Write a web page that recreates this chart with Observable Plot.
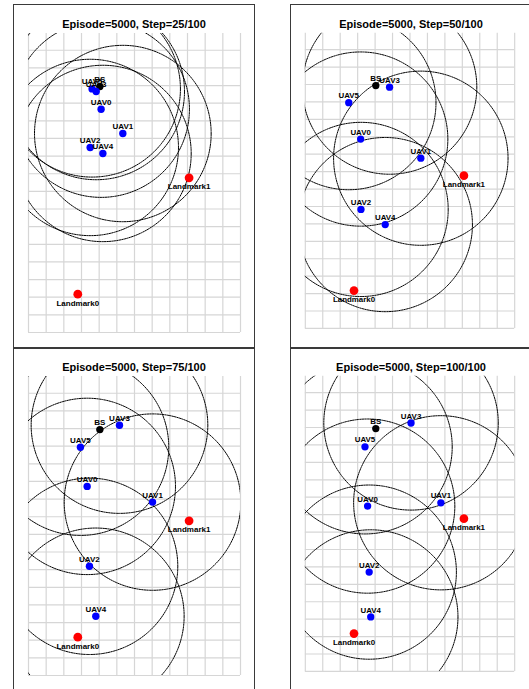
<!DOCTYPE html>
<html><head><meta charset="utf-8">
<script src="https://cdn.jsdelivr.net/npm/d3@7"></script>
<script src="https://cdn.jsdelivr.net/npm/@observablehq/plot@0.6"></script>
<style>
body{margin:0;background:#fff;overflow:hidden;}
#root{position:relative;width:529px;height:689px;overflow:hidden;}
.panel{position:absolute;}
.frame{position:absolute;border:1.5px solid #3a3a3a;box-sizing:border-box;pointer-events:none;}
.title{position:absolute;font:bold 11px "Liberation Sans",Arial,sans-serif;text-align:center;line-height:14px;color:#000;}
</style></head><body><div id="root"></div>
<script>
const episode = 5000;
const steps = ["25/100", "50/100", "75/100", "100/100"];
const uavNames = ["UAV0", "UAV1", "UAV2", "UAV3", "UAV4", "UAV5"];
// UAV positions (grid units) per step
const uavX25 = [4.11, 5.34, 3.49, 3.83, 4.21, 3.60];
const uavY25 = [12.66, 11.28, 10.49, 13.66, 10.15, 13.81];
const uavX50 = [3.17, 6.62, 3.19, 4.83, 4.58, 2.49];
const uavY50 = [10.87, 9.77, 6.83, 13.85, 5.96, 12.96];
const uavX75 = [3.32, 7.02, 3.45, 5.15, 3.81, 2.94];
const uavY75 = [10.72, 9.83, 6.19, 14.19, 3.36, 12.94];
const uavX100 = [3.57, 7.77, 3.66, 6.06, 3.75, 3.42];
const uavY100 = [9.49, 9.68, 5.70, 14.26, 3.13, 12.89];
const landmarkNames = ["Landmark0", "Landmark1"];
const landmarkX = [2.79, 9.09];
const landmarkY = [2.17, 8.77];
const bsName = ["BS"];
const bsX = [4.04];
const bsY = [13.94];
const coverRadius = 5;

const root = document.getElementById("root");
const layout = [[13, 4], [290, 4], [13, 347], [290, 347]];
const frameH = [344.5, 344.5, 346, 346];
const uavXs = [uavX25, uavX50, uavX75, uavX100];
const uavYs = [uavY25, uavY50, uavY75, uavY100];
const W = 242, H = 343;

steps.forEach((step, k) => {
  const [left, top] = layout[k];
  const uavs = uavNames.map((n, i) => ({name: n, x: uavXs[k][i], y: uavYs[k][i]}));
  const lms = landmarkNames.map((n, i) => ({name: n, x: landmarkX[i], y: landmarkY[i]}));
  const bs = bsName.map((n, i) => ({name: n, x: bsX[i], y: bsY[i]}));
  const ring = [];
  for (const u of uavs) {
    for (let a = 0; a <= 360; a += 2) {
      const t = a * Math.PI / 180;
      ring.push({name: u.name, x: u.x + coverRadius * Math.cos(t), y: u.y + coverRadius * Math.sin(t)});
    }
  }
  const svg = Plot.plot({
    width: W, height: H,
    marginLeft: 15, marginRight: 15, marginTop: 29, marginBottom: 15,
    x: {domain: [0, 12], axis: null},
    y: {domain: [0, 16.95], axis: null},
    style: {fontFamily: "Liberation Sans, Arial, sans-serif", background: "transparent"},
    marks: [
      Plot.gridX(d3.range(0, 13), {stroke: "#d6d6d6", strokeOpacity: 1, strokeWidth: 1.2}),
      Plot.gridY(d3.range(0, 17), {stroke: "#d6d6d6", strokeOpacity: 1, strokeWidth: 1.2}),
      Plot.line(ring, {x: "x", y: "y", z: "name", stroke: "#000", strokeWidth: 1, strokeDasharray: "1.5,1", clip: true}),
      Plot.dot(lms, {x: "x", y: "y", r: 4.4, fill: "#ff0000"}),
      Plot.dot(bs, {x: "x", y: "y", r: 3.7, fill: "#000"}),
      Plot.dot(uavs, {x: "x", y: "y", r: 3.7, fill: "#0000ff"}),
      Plot.text(uavs.concat(bs), {x: "x", y: "y", text: "name", dy: -7, fontWeight: "bold", fontSize: 8, fill: "#000"}),
      Plot.text(lms, {x: "x", y: "y", text: "name", dy: 9, fontWeight: "bold", fontSize: 8, fill: "#000"})
    ]
  });
  const wrap = document.createElement("div");
  wrap.className = "panel";
  wrap.style.left = left + "px";
  wrap.style.top = top + "px";
  wrap.appendChild(svg);
  root.appendChild(wrap);
  const title = document.createElement("div");
  title.className = "title";
  title.style.left = left + "px";
  title.style.top = (top + 13) + "px";
  title.style.width = W + "px";
  title.textContent = `Episode=${episode}, Step=${step}`;
  root.appendChild(title);
  const frame = document.createElement("div");
  frame.className = "frame";
  frame.style.left = left + "px";
  frame.style.top = top + "px";
  frame.style.width = W + "px";
  frame.style.height = frameH[k] + "px";
  root.appendChild(frame);
});
</script>
</body></html>
